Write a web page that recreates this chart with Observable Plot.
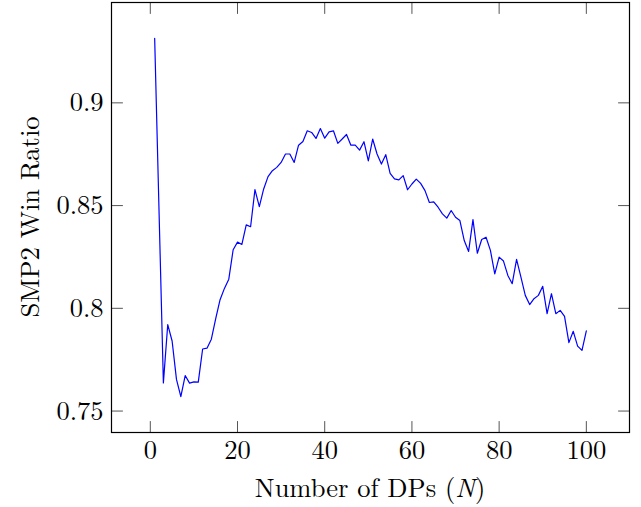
<!DOCTYPE html>
<html>
<head>
<meta charset="utf-8">
<script src="https://cdn.jsdelivr.net/npm/d3@7"></script>
<script src="https://cdn.jsdelivr.net/npm/@observablehq/plot@0.6"></script>
<style>
  html, body { margin: 0; padding: 0; background: #fff; }
  #chart svg { display: block; }
</style>
</head>
<body>
<div id="chart"></div>
<script>
// Number of DPs (N)
const nValues = [1, 3, 4, 5, 6, 7, 8, 9, 10, 11, 12, 13, 14, 15, 16, 17, 18, 19, 20,
  21, 22, 23, 24, 25, 26, 27, 28, 29, 30, 31, 32, 33, 34, 35, 36, 37, 38, 39, 40,
  41, 42, 43, 44, 45, 46, 47, 48, 49, 50, 51, 52, 53, 54, 55, 56, 57, 58, 59, 60,
  61, 62, 63, 64, 65, 66, 67, 68, 69, 70, 71, 72, 73, 74, 75, 76, 77, 78, 79, 80,
  81, 82, 83, 84, 85, 86, 87, 88, 89, 90, 91, 92, 93, 94, 95, 96, 97, 98, 99, 100];
// SMP2 Win Ratio
const winRatio = [0.9314, 0.7637, 0.7921, 0.7841, 0.7654, 0.7570, 0.7673, 0.7636, 0.7642, 0.7641,
  0.7802, 0.7806, 0.7850, 0.7950, 0.8042, 0.8097, 0.8142, 0.8285, 0.8322,
  0.8311, 0.8406, 0.8397, 0.8578, 0.8495, 0.8581, 0.8641, 0.8670, 0.8686, 0.8710,
  0.8751, 0.8751, 0.8710, 0.8794, 0.8812, 0.8864, 0.8856, 0.8827, 0.8875, 0.8828,
  0.8859, 0.8864, 0.8803, 0.8824, 0.8846, 0.8794, 0.8794, 0.8770, 0.8811, 0.8718,
  0.8824, 0.8751, 0.8702, 0.8748, 0.8657, 0.8630, 0.8625, 0.8646, 0.8577, 0.8605,
  0.8629, 0.8608, 0.8573, 0.8515, 0.8518, 0.8492, 0.8460, 0.8439, 0.8476, 0.8443,
  0.8427, 0.8330, 0.8277, 0.8432, 0.8268, 0.8335, 0.8346, 0.8282, 0.8168, 0.8249,
  0.8230, 0.8160, 0.8120, 0.8238, 0.8152, 0.8063, 0.8018, 0.8047, 0.8063, 0.8107,
  0.7974, 0.8071, 0.7974, 0.7990, 0.7961, 0.7833, 0.7888, 0.7816, 0.7795, 0.7890];
const xTicks = [0, 20, 40, 60, 80, 100];
const yTicks = [0.75, 0.8, 0.85, 0.9];
const xLabel = "Number of DPs (";
const xLabelVar = "N";
const xLabelEnd = ")";
const yLabel = "SMP2 Win Ratio";

const data = nValues.map((n, i) => ({n, v: winRatio[i]}));

// pgfplots-like 10% enlargement of the data range
const xMin = d3.min(nValues), xMax = d3.max(nValues);
const yMin = d3.min(winRatio), yMax = d3.max(winRatio);
const xPad = (xMax - xMin) * 0.1, yPad = (yMax - yMin) * 0.1;
const xDomain = [xMin - xPad, xMax + xPad];
const yDomain = [yMin - yPad, yMax + yPad];

const FONT = "'Latin Modern Roman', 'CMU Serif', 'Liberation Serif', 'DejaVu Serif', serif";
const FS = 26.5;
const tickLine = {draw(context, l) { context.moveTo(0, 0); context.lineTo(0, -l); }};
const TICK = 11;
const tickStyle = {length: TICK, anchor: "start", shape: tickLine, stroke: "#555", strokeWidth: 1};

const W = 641, H = 507;
const chart = Plot.plot({
  width: W,
  height: H,
  marginLeft: 111,
  marginRight: 12,
  marginTop: 2,
  marginBottom: 75,
  style: {fontFamily: FONT, fontSize: FS + "px", color: "black", background: "white"},
  x: {domain: xDomain, ticks: xTicks},
  y: {domain: yDomain, ticks: yTicks},
  marks: [
    Plot.line(data, {x: "n", y: "v", stroke: "#0000ff", strokeWidth: 1.2}),
    // inward ticks on all four sides
    Plot.vector(xTicks, {x: d => d, y: yDomain[0], rotate: 0, ...tickStyle}),
    Plot.vector(xTicks, {x: d => d, y: yDomain[1], rotate: 180, ...tickStyle}),
    Plot.vector(yTicks, {y: d => d, x: xDomain[0], rotate: 90, ...tickStyle}),
    Plot.vector(yTicks, {y: d => d, x: xDomain[1], rotate: -90, ...tickStyle}),
    Plot.axisX(xTicks, {tickSize: 0, tickPadding: 8, label: null, fontSize: FS}),
    Plot.axisY(yTicks, {tickSize: 0, tickPadding: 8, label: null, fontSize: FS, tickFormat: d => String(d)}),
    Plot.frame({stroke: "black", strokeWidth: 1.2})
  ]
});

document.getElementById("chart").appendChild(chart);

// axis titles (with italic N)
const svg = d3.select(chart);
const xt = svg.append("text")
  .attr("x", (111 + (W - 12)) / 2)
  .attr("y", 497)
  .attr("text-anchor", "middle")
  .attr("font-family", FONT)
  .attr("font-size", FS)
  .attr("fill", "black");
xt.append("tspan").text(xLabel);
xt.append("tspan").attr("font-style", "italic").text(xLabelVar);
xt.append("tspan").text(xLabelEnd);

svg.append("text")
  .attr("transform", `translate(39, ${(2 + (H - 75)) / 2}) rotate(-90)`)
  .attr("text-anchor", "middle")
  .attr("font-family", FONT)
  .attr("font-size", FS)
  .attr("fill", "black")
  .text(yLabel);
</script>
</body>
</html>
